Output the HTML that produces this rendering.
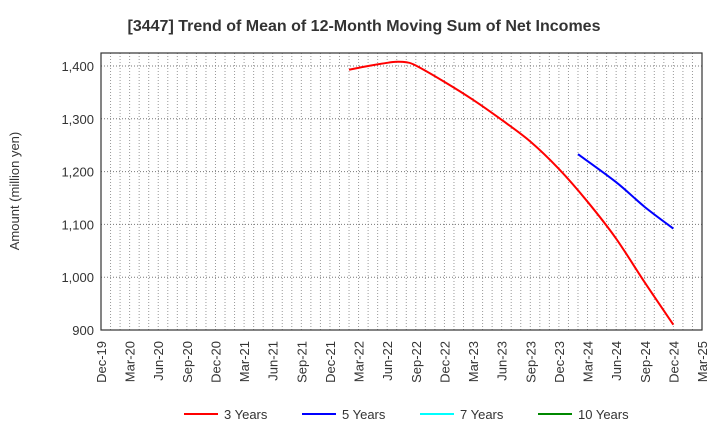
<!DOCTYPE html>
<html><head><meta charset="utf-8"><style>
body{margin:0;background:#fff;font-family:"Liberation Sans",sans-serif}
</style></head><body>
<svg width="720" height="440" xmlns="http://www.w3.org/2000/svg" font-family="Liberation Sans, sans-serif">
<text x="364" y="31" text-anchor="middle" font-size="16" font-weight="bold" fill="#333">[3447]  Trend of Mean of 12-Month Moving Sum of Net Incomes</text>
<g id="grid"></g><g id="axes"></g><g id="series"></g>
<text transform="translate(19,191) rotate(-90)" text-anchor="middle" font-size="13" fill="#333">Amount (million yen)</text>
<g id="legend"></g>
</svg>
<script>
const xLabels=["Dec-19","Mar-20","Jun-20","Sep-20","Dec-20","Mar-21","Jun-21","Sep-21","Dec-21","Mar-22","Jun-22","Sep-22","Dec-22","Mar-23","Jun-23","Sep-23","Dec-23","Mar-24","Jun-24","Sep-24","Dec-24","Mar-25"];
const yTicks=[900,1000,1100,1200,1300,1400];
const months3=[26,28,30,31,32,33,36,39,42,45,48,51,54,57,60];
const values3=[1393,1400,1406,1408,1407,1401,1370,1336,1298,1257,1205,1143,1073,990,910];
const months5=[50,54,57,60];
const values5=[1233,1180,1133,1092];
const seriesNames=["3 Years","5 Years","7 Years","10 Years"];
const seriesColors=["#f00","#00f","#0ff","#080"];
const L=101,R=702,T=53,B=330,Y0=900,Y1=1424.6,M=63;
const xs=m=>L+(R-L)*m/M, ys=v=>B-(B-T)*(v-Y0)/(Y1-Y0);
const NS="http://www.w3.org/2000/svg";
function mk(t,a,p){const e=document.createElementNS(NS,t);for(const k in a)e.setAttribute(k,a[k]);p.appendChild(e);return e;}
const g=document.getElementById('grid'),ax=document.getElementById('axes');
for(let m=1;m<M;m++){const l=mk('line',{x1:xs(m),x2:xs(m),y1:T,y2:B,stroke:'#999','stroke-width':1,'stroke-dasharray':'1,2'},g);

}
yTicks.forEach(v=>{const l=mk('line',{x1:L,x2:R,y1:ys(v),y2:ys(v),stroke:'#777','stroke-width':1,'stroke-dasharray':'1,2'},g);


const t=mk('text',{x:L-7,y:ys(v)+5,'text-anchor':'end','font-size':13,fill:'#333'},ax);t.textContent=v.toLocaleString('en-US');

});
xLabels.forEach((s,i)=>{const x=xs(i*3);const t=mk('text',{transform:`translate(${x+5},341) rotate(-90)`,'text-anchor':'end','font-size':13,fill:'#333'},ax);t.textContent=s;

});
const fr=mk('rect',{x:L,y:T,width:R-L,height:B-T,fill:'none',stroke:'#333','stroke-width':1.2},ax);


function path(ms,vs){const p=ms.map((m,i)=>[xs(m),ys(vs[i])]);let d=`M${p[0][0]},${p[0][1]}`;
for(let i=0;i<p.length-1;i++){const p0=p[i-1]||p[i],p1=p[i],p2=p[i+1],p3=p[i+2]||p2;
d+=` C${p1[0]+(p2[0]-p0[0])/6},${p1[1]+(p2[1]-p0[1])/6} ${p2[0]-(p3[0]-p1[0])/6},${p2[1]-(p3[1]-p1[1])/6} ${p2[0]},${p2[1]}`;}return d;}
const sg=document.getElementById('series');
const s3=mk('path',{d:path(months3,values3),fill:'none',stroke:'#f00','stroke-width':2},sg);


const s5=mk('path',{d:path(months5,values5),fill:'none',stroke:'#00f','stroke-width':2},sg);


const lg=document.getElementById('legend');const lx=[184,302,420,538];
seriesNames.forEach((n,i)=>{const e=mk('g',{},lg);


mk('line',{x1:lx[i],x2:lx[i]+34,y1:414,y2:414,stroke:seriesColors[i],'stroke-width':2},e);
const t=mk('text',{x:lx[i]+40,y:419,'font-size':13,fill:'#333'},e);t.textContent=n;});
</script>
</body></html>
